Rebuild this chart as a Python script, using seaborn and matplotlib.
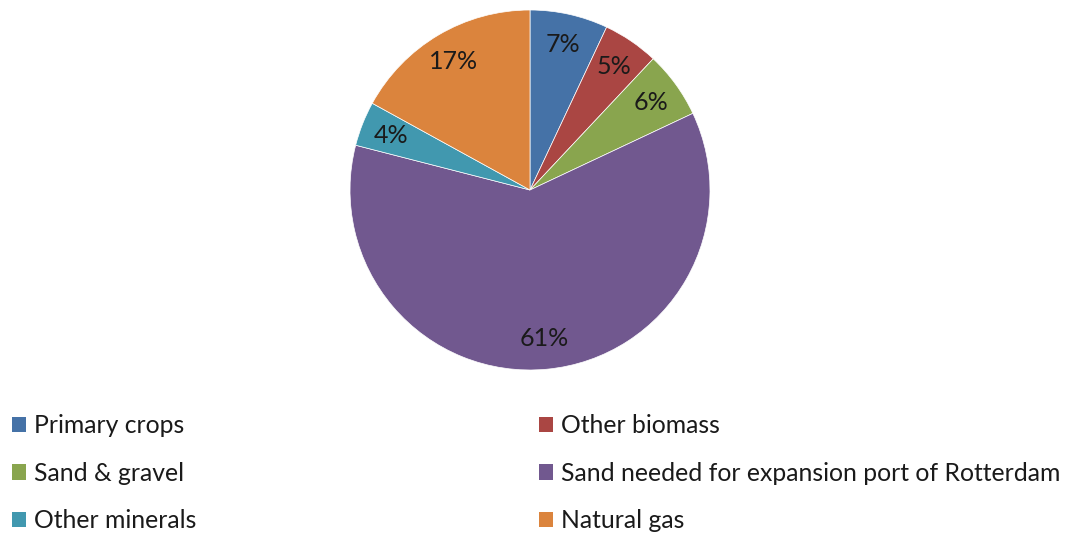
import matplotlib
matplotlib.use("Agg")
import numpy as np
import matplotlib.pyplot as plt
from matplotlib.patches import Patch
import seaborn as sns

# Material flow shares (percent)
categories = ["Primary crops", "Other biomass", "Sand & gravel",
              "Sand needed for expansion port of Rotterdam",
              "Other minerals", "Natural gas"]
shares = [7, 5, 6, 61, 4, 17]
pct_labels = ["7%", "5%", "6%", "61%", "4%", "17%"]
slice_colors = ["#4572A7", "#AA4643", "#89A54E", "#71588F", "#4198AF", "#DB843D"]

sns.set_theme(style="white")
plt.rcParams["font.family"] = ["Lato", "DejaVu Sans"]
palette = sns.color_palette(slice_colors)

W, H = 1065, 536
fig = plt.figure(figsize=(W / 100, H / 100), dpi=100)
fig.patch.set_facecolor("white")

cx, cy, r = 530, 190, 180
ax = fig.add_axes([(cx - r) / W, (H - cy - r) / H, 2 * r / W, 2 * r / H])
wedges, texts = ax.pie(shares, colors=palette, startangle=90, counterclock=False,
                       radius=1.0, wedgeprops=dict(linewidth=0.5, edgecolor="white"))
for w, lab in zip(wedges, pct_labels):
    ang = np.deg2rad((w.theta1 + w.theta2) / 2)
    ax.text(0.83 * np.cos(ang), 0.83 * np.sin(ang), lab, ha="center", va="center",
            fontsize=18, color="#1a1a1a")
ax.set_xlim(-1, 1)
ax.set_ylim(-1, 1)
ax.set_aspect("equal")
ax.axis("off")

fs = 17.8
handles = [Patch(facecolor=c, edgecolor="none") for c in palette]
common = dict(frameon=False, fontsize=fs, handlelength=0.58, handleheight=0.58,
              handletextpad=0.33, labelspacing=1.0, borderpad=0, borderaxespad=0,
              labelcolor="#1a1a1a")
left_idx = [0, 2, 4]
right_idx = [1, 3, 5]
top = 1 - 414 / H
leg1 = fig.legend([handles[i] for i in left_idx], [categories[i] for i in left_idx],
                  loc="upper left", bbox_to_anchor=(12 / W, top), **common)
leg2 = fig.legend([handles[i] for i in right_idx], [categories[i] for i in right_idx],
                  loc="upper left", bbox_to_anchor=(539 / W, top), **common)

fig.savefig("out.png", dpi=100, facecolor="white")
